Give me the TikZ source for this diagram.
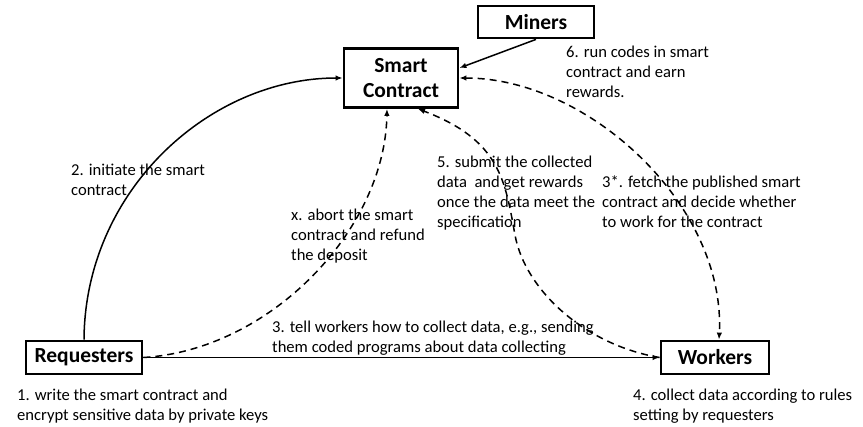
\documentclass[tikz,border=0pt]{standalone}
\usepackage{fontspec}
\setmainfont{Carlito}
\usetikzlibrary{arrows.meta}
\tikzset{
  box/.style={draw, line width=2.8pt, inner sep=0pt, font=\fontsize{21.5}{25}\selectfont\bfseries, align=center},
  lbl/.style={anchor=base west, inner sep=0pt, align=left, font=\fontsize{16.6}{20}\selectfont},
  conn/.style={line width=1.5pt, -{Latex[length=7pt,width=5.5pt]}},
  dconn/.style={conn, dash pattern=on 7pt off 5pt},
}
\begin{document}
\begin{tikzpicture}[x=1pt,y=-1pt]
\useasboundingbox (0,0) rectangle (863,427);
\node[box, minimum width=116, minimum height=32] (mi) at (536,22) {Miners};
\node[box, minimum width=114, minimum height=59] (sc) at (401,78) {Smart\\Contract};
\node[box, minimum width=116, minimum height=33] (req) at (84,357.5) {Requesters};
\node[box, minimum width=108, minimum height=33] (wk) at (715,357.5) {Workers};

\node[lbl] (l6) at (566,98) {6. run codes in smart\\contract and earn\\rewards.};
\node[lbl] (l2) at (71,196) {2. initiate the smart\\contract};
\node[lbl] (lx) at (291,261) {x. abort the smart\\contract and refund\\the deposit};
\node[lbl] (l5) at (437,228) {5. submit the collected\\data\ \ and get rewards\\once the data meet the\\specification};
\node[lbl] (l3s) at (602,228) {3*. fetch the published smart\\contract and decide whether\\to work for the contract};
\node[lbl] (l3) at (272,352.5) {3. tell workers how to collect data, e.g., sending\\them coded programs about data collecting};
\node[lbl] (l1) at (17,421) {1. write the smart contract and\\encrypt sensitive data by private keys};
\node[lbl] (l4) at (633,421) {4. collect data according to rules\\setting by requesters};

\draw[conn] (mi.south) -- ([yshift=10pt]sc.east);
\draw[conn] (req.north) .. controls (85,190) and (210,78) .. (sc.west);
\draw[conn] (req.east) -- (wk.west);
\draw[dconn] (req.east) .. controls (270,350) and (385,230) .. ([xshift=-14pt]sc.south);
\draw[dconn] (wk.west) .. controls (585,345) and (525,290) .. (515,235) .. controls (505,180) and (500,140) .. ([xshift=17pt]sc.south);
\draw[dconn, {Latex[length=7pt,width=5.5pt]}-{Latex[length=7pt,width=5.5pt]}] (sc.east) .. controls (588,78) and (726,205) .. ([xshift=4pt]wk.north);
\end{tikzpicture}
\end{document}
